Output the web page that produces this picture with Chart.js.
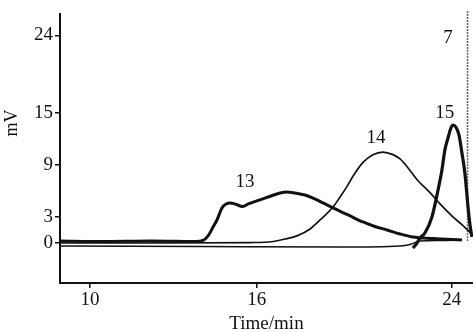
<!DOCTYPE html>
<html>
<head>
<meta charset="utf-8">
<script src="https://cdn.jsdelivr.net/npm/chart.js@4.4.1/dist/chart.umd.min.js"></script>
<style>
  html, body { margin: 0; padding: 0; background: #fff; }
  canvas { display: block; }
</style>
</head>
<body>
<canvas id="chrom" width="473" height="332"></canvas>
<script>
// Chromatogram: peaks 13, 14, 15 and 7

// tick labels
const timeTicks = [10, 16, 24];
const mvTicks = [0, 3, 9, 15, 24];

// peak 13 (thick)
const t13 = [8.92, 10.4, 12.2, 13.8, 14.07, 14.25, 14.43, 14.57, 14.75, 14.9, 15.04, 15.22, 15.4, 15.5, 15.7, 16.22, 16.55, 16.96, 17.24, 17.57, 17.98, 18.31, 18.72, 19.13, 19.75, 20.36, 20.85, 21.35, 21.88, 22.41, 23.23, 24.42];
const v13 = [0.21, 0.15, 0.21, 0.15, 0.27, 0.79, 1.83, 2.64, 4.03, 4.49, 4.61, 4.49, 4.26, 4.2, 4.5, 5.05, 5.39, 5.76, 5.88, 5.76, 5.53, 5.18, 4.61, 4.03, 3.22, 2.41, 1.89, 1.48, 1.02, 0.67, 0.5, 0.32];

// peak 14 (thin)
const t14 = [8.92, 12.16, 15.76, 16.67, 17.16, 17.65, 18.19, 18.6, 19.13, 19.42, 19.7, 19.95, 20.36, 20.77, 21.18, 21.59, 21.88, 22.17, 22.58, 23.11, 23.52, 24.05, 24.42, 24.75, 24.87];
const v14 = [-0.02, -0.02, 0.03, 0.15, 0.44, 0.8, 1.6, 2.64, 4.14, 5.3, 6.5, 7.7, 9.3, 10.2, 10.5, 10.2, 9.7, 8.8, 7.3, 5.8, 4.5, 3.0, 2.1, 1.2, 0.85];

// peak 15 (thick) and its thin baseline
const t15 = [22.41, 22.58, 22.7, 22.9, 23.19, 23.44, 23.6, 23.72, 23.85, 23.97, 24.05, 24.17, 24.3, 24.42, 24.54, 24.67, 24.75, 24.83];
const v15 = [-0.6, -0.02, 0.56, 1.13, 2.99, 6.11, 8.43, 10.74, 12.13, 13.29, 13.63, 13.4, 12.47, 10.39, 8.08, 4.14, 2.06, 0.67];
const tBase = [8.92, 13.96, 19.42, 21.88, 22.29, 22.7, 23.52, 24.42];
const vBase = [-0.37, -0.43, -0.49, -0.37, -0.2, 0.21, 0.27, 0.32];

// peak 7 (off scale, grey trace)
const t7 = [24.65, 24.65];
const v7 = [0.2, 26.9];

// peak labels
const peakNames = ['13', '14', '15', '7'];
const peakLabelT = [15.58, 20.89, 23.72, 23.85];
const peakLabelV = [7.03, 12.13, 15.02, 23.7];

function pts(xs, ys) {
  return xs.map((x, i) => ({ x: x, y: ys[i] }));
}

// the printed time axis is not evenly spaced, so map it piece by piece
const warpVals = [8.92, 10, 16, 24, 24.874];
const warpFrac = [0, 0.0726, 0.4763, 0.9484, 1];

function warp(v) {
  for (let i = 1; i < warpVals.length; i++) {
    if (v <= warpVals[i] || i === warpVals.length - 1) {
      const a = warpVals[i - 1], b = warpVals[i];
      return warpFrac[i - 1] + (v - a) / (b - a) * (warpFrac[i] - warpFrac[i - 1]);
    }
  }
}
function unwarp(d) {
  for (let i = 1; i < warpFrac.length; i++) {
    if (d <= warpFrac[i] || i === warpFrac.length - 1) {
      const a = warpFrac[i - 1], b = warpFrac[i];
      return warpVals[i - 1] + (d - a) / (b - a) * (warpVals[i] - warpVals[i - 1]);
    }
  }
}

class WarpedScale extends Chart.LinearScale {
  getPixelForValue(value) {
    if (value === null || value === undefined) return NaN;
    return this.getPixelForDecimal(warp(value));
  }
  getValueForPixel(pixel) {
    return unwarp(this.getDecimalForPixel(pixel));
  }
}
WarpedScale.id = 'warped';
WarpedScale.defaults = Chart.LinearScale.defaults;
Chart.register(WarpedScale);

const serif = "'Liberation Serif', 'DejaVu Serif', serif";
Chart.defaults.font.family = serif;
Chart.defaults.color = '#111';

const peakLabels = {
  id: 'peakLabels',
  afterDatasetsDraw(chart) {
    const ctx = chart.ctx;
    const xs = chart.scales.x, ys = chart.scales.y;
    ctx.save();
    ctx.fillStyle = '#111';
    ctx.font = '19px ' + serif;
    ctx.textAlign = 'center';
    ctx.textBaseline = 'middle';
    peakNames.forEach((name, i) => {
      ctx.fillText(name, xs.getPixelForValue(peakLabelT[i]), ys.getPixelForValue(peakLabelV[i]));
    });
    // y axis title sits above the middle of the axis in the original
    ctx.translate(12, 123);
    ctx.rotate(-Math.PI / 2);
    ctx.font = '18px ' + serif;
    ctx.fillText('mV', 0, 0);
    ctx.restore();
  }
};

new Chart(document.getElementById('chrom'), {
  type: 'line',
  data: {
    datasets: [
      { label: '13', data: pts(t13, v13), borderColor: '#111', borderWidth: 3 },
      { label: '14', data: pts(t14, v14), borderColor: '#111', borderWidth: 1.7 },
      { label: 'base', data: pts(tBase, vBase), borderColor: '#111', borderWidth: 1.5 },
      { label: '15', data: pts(t15, v15), borderColor: '#111', borderWidth: 3.2 },
      { label: '7', data: pts(t7, v7), borderColor: '#6a6a6a', borderWidth: 1.6, borderDash: [2, 1], clip: false }
    ]
  },
  options: {
    responsive: false,
    animation: false,
    layout: { padding: { top: 14, right: 0, left: 0, bottom: 0 } },
    elements: {
      point: { radius: 0 },
      line: { cubicInterpolationMode: 'monotone' }
    },
    plugins: {
      legend: { display: false },
      tooltip: { enabled: false }
    },
    scales: {
      x: {
        type: 'warped',
        min: 8.92,
        max: 24.874,
        afterBuildTicks: s => { s.ticks = timeTicks.map(v => ({ value: v })); },
        afterFit: s => { s.height = 49; },
        grid: { drawOnChartArea: false, tickLength: 5, color: '#111', lineWidth: 1.5 },
        border: { color: '#111', width: 2 },
        ticks: { padding: 1, font: { size: 19 }, maxRotation: 0 },
        title: { display: true, text: 'Time/min', font: { size: 19, lineHeight: 1 }, padding: { top: 0, bottom: -2 } }
      },
      y: {
        type: 'linear',
        min: -4.65,
        max: 26.47,
        afterBuildTicks: s => { s.ticks = mvTicks.map(v => ({ value: v })); },
        afterFit: s => { s.width = 60; },
        grid: { drawOnChartArea: false, tickLength: 5, color: '#111', lineWidth: 1.5 },
        border: { color: '#111', width: 2 },
        ticks: { padding: 2, font: { size: 19 } }
      }
    }
  },
  plugins: [peakLabels]
});
</script>
</body>
</html>
